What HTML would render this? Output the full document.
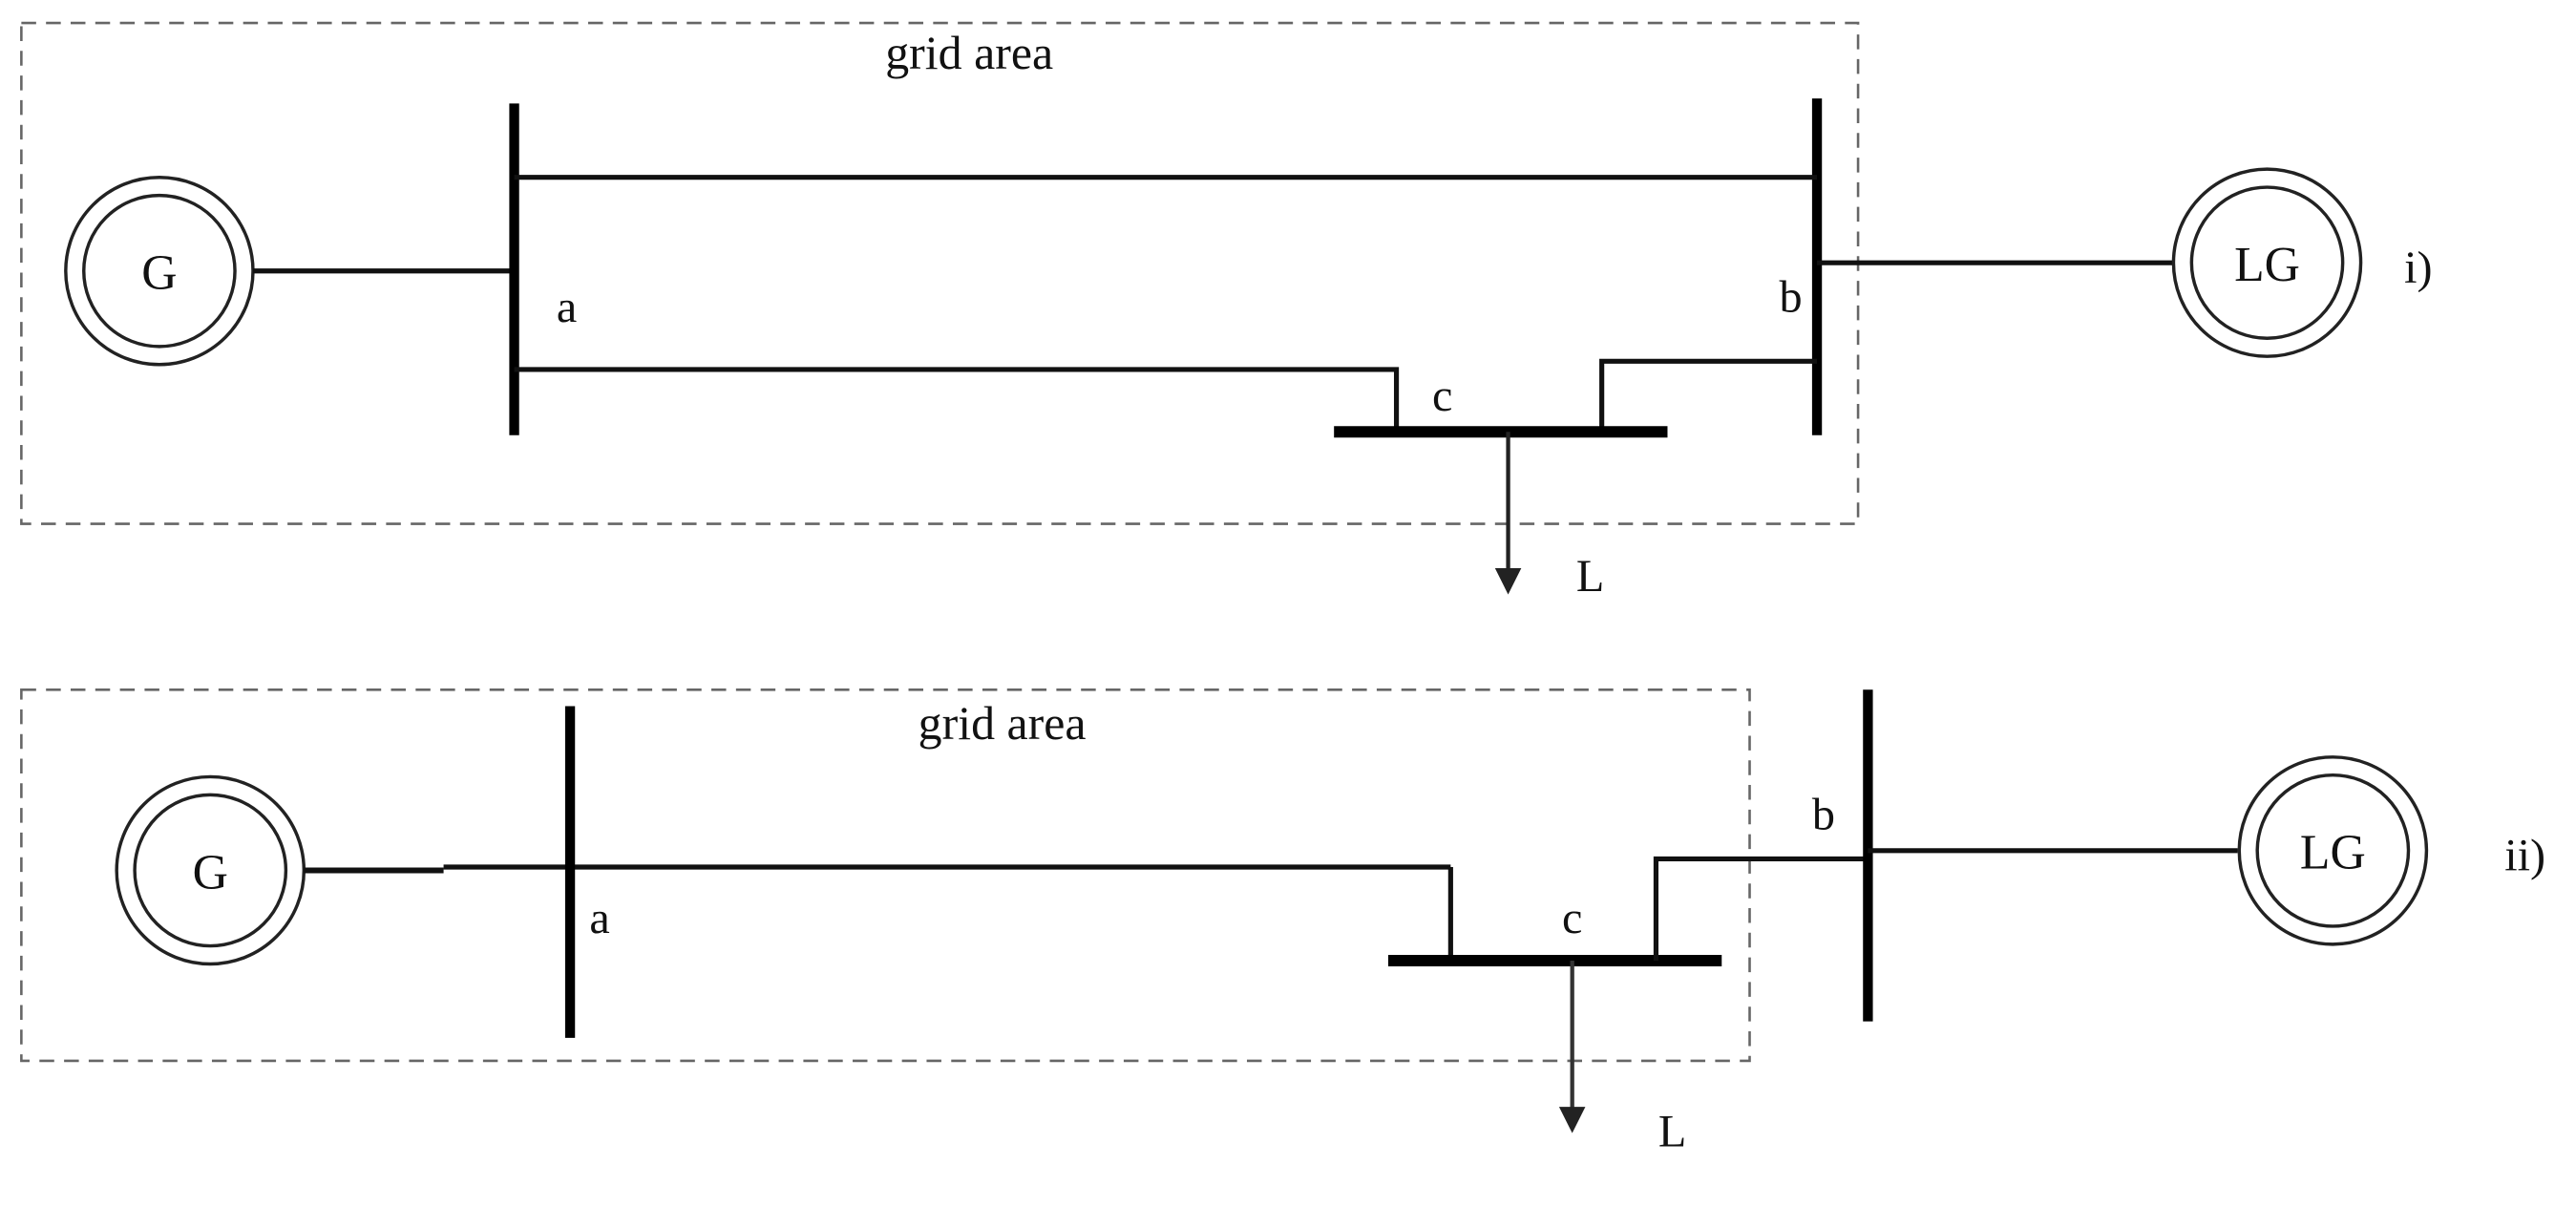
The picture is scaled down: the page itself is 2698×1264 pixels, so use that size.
<!DOCTYPE html>
<html><head><meta charset="utf-8"><style>html,body{margin:0;padding:0;background:#fff;}svg{display:block}</style></head>
<body>
<svg width="2698" height="1264" viewBox="0 0 1568 735" preserveAspectRatio="none" xmlns="http://www.w3.org/2000/svg" font-family="Liberation Serif, serif" fill="none">
<defs><marker id="ar" markerWidth="16" markerHeight="18" refX="2" refY="8" orient="auto" markerUnits="userSpaceOnUse"><path d="M0,0 L16,8 L0,16 z" fill="#222"/></marker></defs>
<!-- top panel -->
<rect x="13" y="14" width="1118" height="305" stroke="#666" stroke-width="1.5" stroke-dasharray="9,6"/>
<text x="590" y="42" font-size="29" fill="#111" text-anchor="middle">grid area</text>
<circle cx="97" cy="165" r="57" stroke="#222" stroke-width="2"/>
<circle cx="97" cy="165" r="46" stroke="#222" stroke-width="2"/>
<text x="97" y="176" font-size="30" fill="#111" text-anchor="middle">G</text>
<line x1="154" y1="165" x2="313" y2="165" stroke="#111" stroke-width="3"/>
<line x1="313" y1="63" x2="313" y2="265" stroke="#000" stroke-width="6"/>
<line x1="1106" y1="60" x2="1106" y2="265" stroke="#000" stroke-width="6"/>
<line x1="313" y1="108" x2="1106" y2="108" stroke="#111" stroke-width="3"/>
<polyline points="313,225 850,225 850,262" stroke="#111" stroke-width="3"/>
<polyline points="1106,220 975,220 975,262" stroke="#111" stroke-width="3"/>
<line x1="812" y1="263" x2="1015" y2="263" stroke="#000" stroke-width="7"/>
<line x1="918" y1="263" x2="918" y2="348" stroke="#222" stroke-width="2.5" marker-end="url(#ar)"/>
<text x="345" y="196" font-size="28" fill="#111" text-anchor="middle">a</text>
<text x="1090" y="190" font-size="28" fill="#111" text-anchor="middle">b</text>
<text x="878" y="250" font-size="28" fill="#111" text-anchor="middle">c</text>
<text x="968" y="360" font-size="28" fill="#111" text-anchor="middle">L</text>
<line x1="1106" y1="160" x2="1323" y2="160" stroke="#111" stroke-width="3"/>
<circle cx="1380" cy="160" r="57" stroke="#222" stroke-width="2"/>
<circle cx="1380" cy="160" r="46" stroke="#222" stroke-width="2"/>
<text x="1380" y="171" font-size="30" fill="#111" text-anchor="middle">LG</text>
<text x="1472" y="172" font-size="28" fill="#111" text-anchor="middle">i)</text>
<!-- bottom panel -->
<rect x="13" y="420" width="1052" height="226" stroke="#666" stroke-width="1.5" stroke-dasharray="9,6"/>
<text x="610" y="450" font-size="29" fill="#111" text-anchor="middle">grid area</text>
<circle cx="128" cy="530" r="57" stroke="#222" stroke-width="2"/>
<circle cx="128" cy="530" r="46" stroke="#222" stroke-width="2"/>
<text x="128" y="541" font-size="30" fill="#111" text-anchor="middle">G</text>
<line x1="185" y1="530" x2="270" y2="530" stroke="#111" stroke-width="3.5"/>
<line x1="270" y1="528" x2="883" y2="528" stroke="#111" stroke-width="3"/>
<line x1="347" y1="430" x2="347" y2="632" stroke="#000" stroke-width="6"/>
<line x1="883" y1="528" x2="883" y2="585" stroke="#111" stroke-width="3"/>
<line x1="845" y1="585" x2="1048" y2="585" stroke="#000" stroke-width="7"/>
<polyline points="1008,585 1008,523 1137,523" stroke="#111" stroke-width="3"/>
<line x1="1137" y1="420" x2="1137" y2="622" stroke="#000" stroke-width="6"/>
<line x1="957" y1="585" x2="957" y2="676" stroke="#333" stroke-width="2.5" marker-end="url(#ar)"/>
<text x="365" y="568" font-size="28" fill="#111" text-anchor="middle">a</text>
<text x="1110" y="505" font-size="28" fill="#111" text-anchor="middle">b</text>
<text x="957" y="568" font-size="28" fill="#111" text-anchor="middle">c</text>
<text x="1018" y="698" font-size="28" fill="#111" text-anchor="middle">L</text>
<line x1="1137" y1="518" x2="1362" y2="518" stroke="#111" stroke-width="3"/>
<circle cx="1420" cy="518" r="57" stroke="#222" stroke-width="2"/>
<circle cx="1420" cy="518" r="46" stroke="#222" stroke-width="2"/>
<text x="1420" y="529" font-size="30" fill="#111" text-anchor="middle">LG</text>
<text x="1537" y="530" font-size="28" fill="#111" text-anchor="middle">ii)</text>
</svg>
</body></html>
